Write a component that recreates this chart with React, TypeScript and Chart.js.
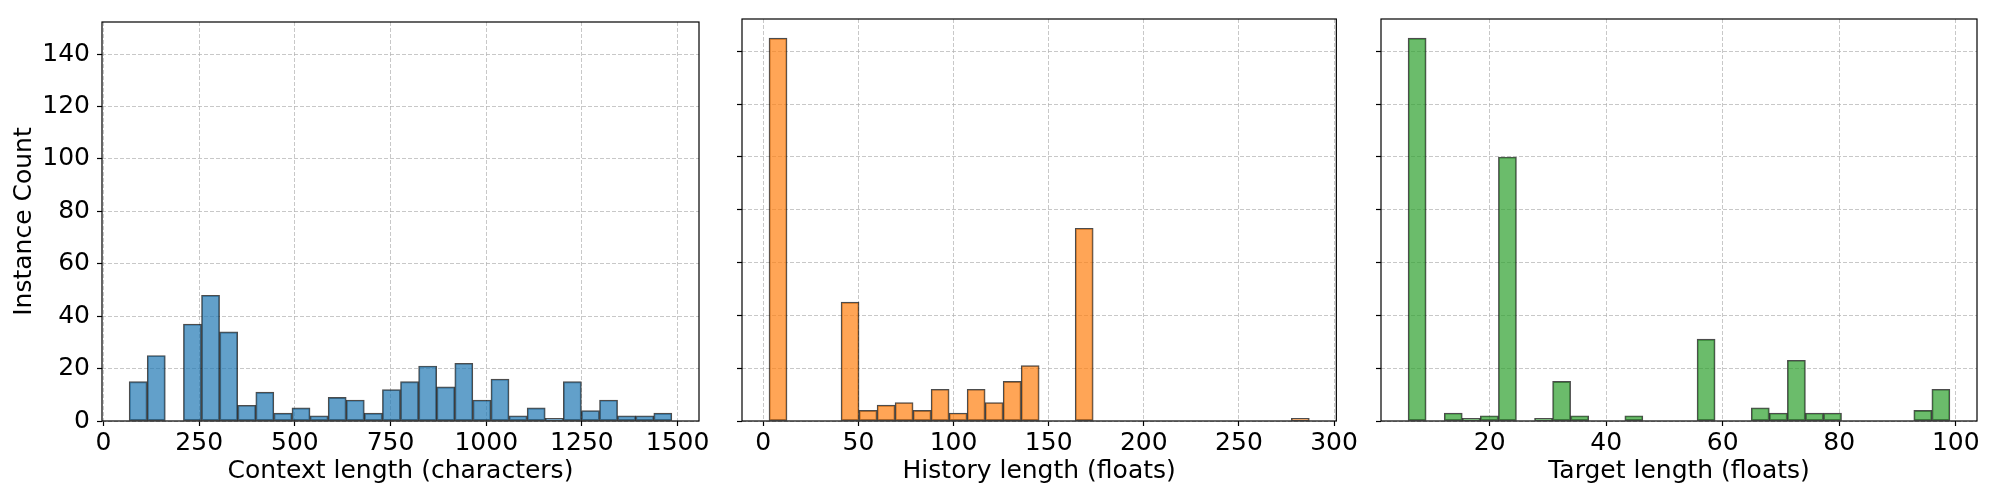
import React, { useEffect, useRef } from "react";
import { Chart, registerables } from "chart.js";

Chart.register(...registerables);

// ---- data ----
const contextCounts = [15, 25, 0, 37, 48, 34, 6, 11, 3, 5, 2, 9, 8, 3, 12, 15, 21, 13, 22, 8, 16, 2, 5, 1, 15, 4, 8, 2, 2, 3];
const historyCounts = [145, 0, 0, 0, 45, 4, 6, 7, 4, 12, 3, 12, 7, 15, 21, 0, 0, 73, 0, 0, 0, 0, 0, 0, 0, 0, 0, 0, 0, 1];
const targetCounts = [145, 0, 3, 1, 2, 100, 0, 1, 15, 2, 0, 0, 2, 0, 0, 0, 31, 0, 0, 5, 3, 23, 3, 3, 0, 0, 0, 0, 4, 12];

const contextRange = [67, 1485];
const historyRange = [3, 287];
const targetRange = [6, 99];

const contextTicks = [0, 250, 500, 750, 1000, 1250, 1500];
const historyTicks = [0, 50, 100, 150, 200, 250, 300];
const targetTicks = [20, 40, 60, 80, 100];
const yTicks = [0, 20, 40, 60, 80, 100, 120, 140];

const xLabels = ["Context length (characters)", "History length (floats)", "Target length (floats)"];
const yLabel = "Instance Count";

const FONT = "'DejaVu Sans', sans-serif";
const FS = 25;

const framePlugin = {
  id: "frame",
  afterDatasetsDraw(chart: any) {
    const { ctx, chartArea } = chart;
    ctx.save();
    ctx.strokeStyle = "#000";
    ctx.lineWidth = 1.2;
    ctx.strokeRect(chartArea.left, chartArea.top, chartArea.right - chartArea.left, chartArea.bottom - chartArea.top);
    ctx.restore();
  },
};

type PanelProps = {
  counts: number[];
  range: number[];
  ticks: number[];
  fill: string;
  xLabel: string;
  showY: boolean;
  left: number;
  width: number;
  axisLeft: number;
  axisRight: number;
};

function Panel(p: PanelProps) {
  const ref = useRef<HTMLCanvasElement>(null);
  useEffect(() => {
    const n = p.counts.length;
    const w = (p.range[1] - p.range[0]) / n;
    const pts = p.counts.map((c, i) => ({ x: p.range[0] + w * (i + 0.5), y: c }));
    const margin = (p.range[1] - p.range[0]) * 0.05;
    const yMax = Math.max(...historyCounts, ...contextCounts, ...targetCounts) * 1.05;
    const chart = new Chart(ref.current!, {
      type: "bar",
      data: {
        datasets: [
          {
            data: pts as any,
            backgroundColor: p.fill,
            borderColor: "rgba(0,0,0,0.7)",
            borderWidth: 1.2,
            borderSkipped: false,
            barPercentage: 1,
            categoryPercentage: 1,
          },
        ],
      },
      options: {
        animation: false,
        responsive: false,
        events: [],
        layout: { padding: { left: 0, right: p.width - p.axisRight, top: 19, bottom: 0 } },
        plugins: { legend: { display: false }, tooltip: { enabled: false } },
        scales: {
          x: {
            type: "linear",
            offset: false,
            min: p.range[0] - margin,
            max: p.range[1] + margin,
            afterBuildTicks: (s: any) => {
              s.ticks = p.ticks.map((v) => ({ value: v }));
            },
            afterFit: (s: any) => {
              s.height = 79;
            },
            grid: {
              offset: false,
              color: "rgba(176,176,176,0.7)",
              lineWidth: 1,
              drawTicks: true,
              tickLength: 5,
              tickColor: "#000",
              tickWidth: 1.2,
              tickBorderDash: [],
            },
            border: { display: false, dash: [4, 2] },
            ticks: {
              color: "#000",
              font: { family: FONT, size: FS },
              padding: 2,
              autoSkip: false,
              maxRotation: 0,
              minRotation: 0,
              callback: (v: any) => String(v),
            },
            title: {
              display: true,
              text: p.xLabel,
              color: "#000",
              font: { family: FONT, size: FS },
              padding: { top: 0, bottom: 14 },
            },
          },
          y: {
            type: "linear",
            min: 0,
            max: yMax,
            afterBuildTicks: (s: any) => {
              s.ticks = yTicks.map((v) => ({ value: v }));
            },
            afterFit: (s: any) => {
              s.width = p.axisLeft;
            },
            grid: {
              color: "rgba(176,176,176,0.7)",
              lineWidth: 1,
              drawTicks: true,
              tickLength: 5,
              tickColor: "#000",
              tickWidth: 1.2,
              tickBorderDash: [],
            },
            border: { display: false, dash: [4, 2] },
            ticks: {
              display: p.showY,
              color: "#000",
              font: { family: FONT, size: FS },
              padding: 7,
              callback: (v: any) => String(v),
            },
            title: {
              display: p.showY,
              text: yLabel,
              color: "#000",
              font: { family: FONT, size: FS },
              padding: { top: 9, bottom: 0 },
            },
          },
        },
      },
      plugins: [framePlugin],
    });
    return () => chart.destroy();
  }, []);
  return (
    <canvas
      ref={ref}
      width={p.width}
      height={500}
      style={{ position: "absolute", left: p.left, top: 0, width: p.width, height: 500 }}
    />
  );
}

export default function App() {
  return (
    <div style={{ position: "fixed", left: 0, top: 0, width: 2000, height: 500, background: "#fff" }}>
      <Panel counts={contextCounts} range={contextRange} ticks={contextTicks} fill="rgba(31,119,180,0.7)"
        xLabel={xLabels[0]} showY={true} left={0} width={720} axisLeft={102} axisRight={699} />
      <Panel counts={historyCounts} range={historyRange} ticks={historyTicks} fill="rgba(255,127,14,0.7)"
        xLabel={xLabels[1]} showY={false} left={720} width={640} axisLeft={22} axisRight={618} />
      <Panel counts={targetCounts} range={targetRange} ticks={targetTicks} fill="rgba(44,160,44,0.7)"
        xLabel={xLabels[2]} showY={false} left={1360} width={640} axisLeft={21} axisRight={617} />
    </div>
  );
}
